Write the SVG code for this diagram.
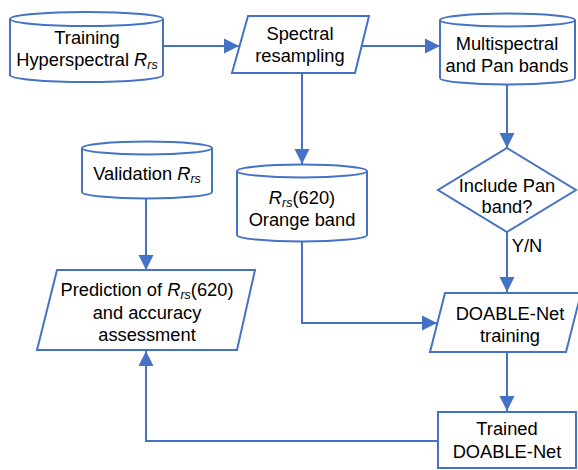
<svg xmlns="http://www.w3.org/2000/svg" width="578" height="470" viewBox="0 0 578 470">
<style>
.s{fill:#fff;stroke:#4472C4;stroke-width:2}
.c{fill:none;stroke:#4472C4;stroke-width:2}
text{font-family:"Liberation Sans",Arial,sans-serif;font-size:18.3px;fill:#000;text-anchor:middle}
.i{font-style:italic}
.sub{font-style:italic;font-size:12.5px}
</style>
<defs>
<marker id="a" markerUnits="userSpaceOnUse" markerWidth="16" markerHeight="16" viewBox="0 0 16 16" refX="15" refY="8" orient="auto">
<path d="M0,0.5 L15,8 L0,15.5 Z" fill="#4472C4"/>
</marker>
</defs>
<rect width="578" height="470" fill="#fff"/>
<g id="connectors">
<path class="c" d="M163,46 L239,46" marker-end="url(#a)"/>
<path class="c" d="M362,46 L440,46" marker-end="url(#a)"/>
<path class="c" d="M302,73 L302,164" marker-end="url(#a)"/>
<path class="c" d="M507,84 L507,148" marker-end="url(#a)"/>
<path class="c" d="M507,232 L507,292" marker-end="url(#a)"/>
<path class="c" d="M302,242 L302,323 L437,323" marker-end="url(#a)"/>
<path class="c" d="M146,198 L146,270" marker-end="url(#a)"/>
<path class="c" d="M507,352 L507,411" marker-end="url(#a)"/>
<path class="c" d="M438,441 L146,441 L146,351" marker-end="url(#a)"/>
</g>
<g id="training">
<path class="s" d="M10,19 A76.5,7 0 0,1 163,19 L163,75 A76.5,7 0 0,1 10,75 Z"/>
<path class="c" d="M10,19 A76.5,7 0 0,0 163,19"/>
<text x="87" y="44">Training</text>
<text x="87" y="66">Hyperspectral <tspan class="i">R</tspan><tspan class="sub" dy="3">rs</tspan></text>
</g>
<g id="spectral">
<path class="s" d="M248,16 L369,16 L355,73 L232,73 Z"/>
<text x="300" y="40">Spectral</text>
<text x="300" y="62">resampling</text>
</g>
<g id="multispectral">
<path class="s" d="M440,20 A67.5,6.5 0 0,1 575,20 L575,78 A67.5,6.5 0 0,1 440,78 Z"/>
<path class="c" d="M440,20 A67.5,6.5 0 0,0 575,20"/>
<text x="507" y="50">Multispectral</text>
<text x="507" y="72">and Pan bands</text>
</g>
<g id="include">
<path class="s" d="M507,148 L576,190 L507,232 L438,190 Z"/>
<text x="507" y="192">Include Pan</text>
<text x="507" y="213">band?</text>
</g>
<text x="527" y="252">Y/N</text>
<g id="orange">
<path class="s" d="M237,171 A65,6.5 0 0,1 367,171 L367,235 A65,6.5 0 0,1 237,235 Z"/>
<path class="c" d="M237,171 A65,6.5 0 0,0 367,171"/>
<text x="302" y="204"><tspan class="i">R</tspan><tspan class="sub" dy="3">rs</tspan><tspan dy="-3">(620)</tspan></text>
<text x="302" y="226">Orange band</text>
</g>
<g id="validation">
<path class="s" d="M82,148 A65,6.5 0 0,1 212,148 L212,192 A65,6.5 0 0,1 82,192 Z"/>
<path class="c" d="M82,148 A65,6.5 0 0,0 212,148"/>
<text x="147" y="180">Validation <tspan class="i">R</tspan><tspan class="sub" dy="3">rs</tspan></text>
</g>
<g id="doable">
<path class="s" d="M445,293 L581,293 L566,352 L430,352 Z"/>
<text x="510" y="320">DOABLE-Net</text>
<text x="510" y="342">training</text>
</g>
<g id="trained">
<rect class="s" x="438" y="412" width="138" height="56"/>
<text x="507" y="435">Trained</text>
<text x="507" y="458">DOABLE-Net</text>
</g>
<g id="prediction">
<path class="s" d="M57,270 L255,270 L237,350 L37,350 Z"/>
<text x="147" y="296">Prediction of <tspan class="i">R</tspan><tspan class="sub" dy="3">rs</tspan><tspan dy="-3">(620)</tspan></text>
<text x="147" y="319">and accuracy</text>
<text x="147" y="341">assessment</text>
</g>
</svg>
